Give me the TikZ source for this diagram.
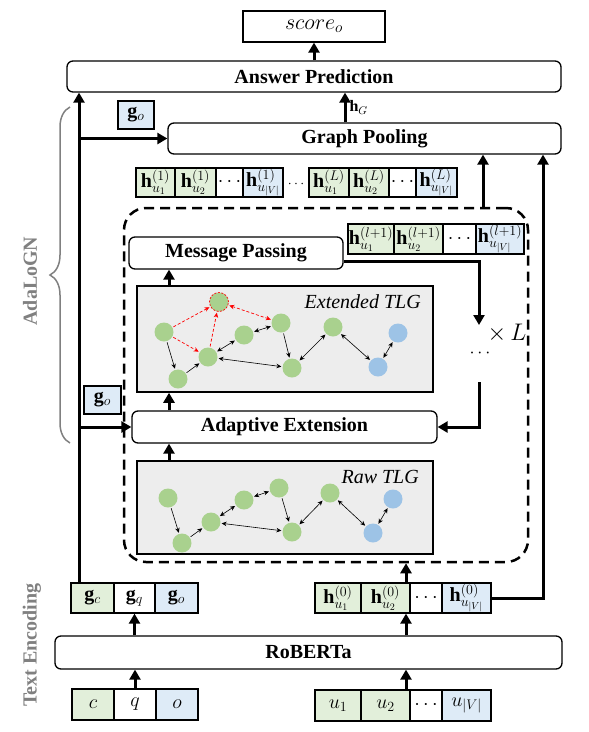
\RequirePackage{fix-cm}
\documentclass[tikz,border=0pt]{standalone}
\usepackage{fontspec}
\setmainfont{Liberation Serif}
\usetikzlibrary{arrows.meta,decorations.pathreplacing,calc}
\definecolor{cgreen}{HTML}{E2EFDA}
\definecolor{cblue}{HTML}{DEEBF7}
\definecolor{ngreen}{HTML}{A9D18E}
\definecolor{nblue}{HTML}{9DC3E6}
\definecolor{tlggray}{HTML}{EDEDED}
\definecolor{labgray}{HTML}{808080}
\newcommand\vcell[7]{\node[cell, fill=#6, minimum width={#3-#2}, minimum height={#5-#4}] (#1) at ({(#2+#3)/2},{-(#4+#5)/2}) {#7};}
\begin{document}
\begin{tikzpicture}[x=1pt,y=1pt,
 box/.style={draw, line width=1.3pt, rounded corners=6pt, fill=white, inner sep=0pt, font=\fontsize{20}{20}\selectfont\bfseries},
 cell/.style={draw, line width=1.3pt, inner sep=0pt, font=\fontsize{20}{20}\selectfont},
 tlg/.style={draw, line width=1.5pt, fill=tlggray, inner sep=0pt},
 gn/.style={circle, fill=ngreen, inner sep=0pt, minimum size=19pt},
 bn/.style={circle, fill=nblue, inner sep=0pt, minimum size=19pt},
 fat/.style={line width=3pt, -{Triangle[length=10pt,width=11pt]}},
 fatline/.style={line width=3pt},
 ed/.style={line width=0.6pt, shorten >=1pt, shorten <=1pt, -{Stealth[length=5pt,width=4.5pt]}},
 ded/.style={line width=0.6pt, shorten >=1pt, shorten <=1pt, {Stealth[length=5pt,width=4.5pt]}-{Stealth[length=5pt,width=4.5pt]}},
 redge/.style={red, dashed, dash pattern=on 3pt off 2pt, line width=0.7pt, shorten >=1pt, shorten <=1pt, -{Stealth[length=5pt,width=4.5pt]}},
 dredge/.style={red, dashed, dash pattern=on 3pt off 2pt, line width=0.7pt, shorten >=1pt, shorten <=1pt, {Stealth[length=5pt,width=4.5pt]}-{Stealth[length=5pt,width=4.5pt]}},
 side/.style={rotate=90, text=labgray, inner sep=0pt, font=\fontsize{20}{20}\selectfont\bfseries}]
\useasboundingbox (0,0) rectangle (589,-732);

% coordinates for vertical lines
\coordinate (xl) at (79,0);
\coordinate (x483) at (483,0);
\coordinate (x543) at (543,0);
\coordinate (x406) at (406,0);
\coordinate (lt) at (479,-325);
\coordinate (lb) at (479,-382);

% dashed loop box
\node[draw, dash pattern=on 10pt off 6pt, line width=2.5pt, rounded corners=22pt, minimum width=404, minimum height=354, inner sep=0pt] (loop) at (326,-385) {};

% main boxes
\node[draw, line width=1.3pt, inner sep=0pt, minimum width=142, minimum height=31, font=\fontsize{22}{22}\selectfont] (score) at (314,-26.5) {$score_o$};
\node[box, minimum width=494, minimum height=31] (ap) at (314,-76.5) {Answer Prediction};
\node[box, minimum width=393, minimum height=31] (gp) at (364.5,-138.5) {Graph Pooling};
\node[box, minimum width=214, minimum height=32] (mp) at (236,-253) {Message Passing};
\node[box, minimum width=305, minimum height=32] (ae) at (284.5,-427) {Adaptive Extension};
\node[box, minimum width=507, minimum height=33] (rob) at (308.5,-652.5) {RoBERTa};

% g_o boxes
\node[cell, fill=cblue, minimum width=36, minimum height=28] (go1) at (136,-115) {$\mathbf{g}_o$};
\node[cell, fill=cblue, minimum width=37, minimum height=28] (go2) at (102.5,-400) {$\mathbf{g}_o$};

% top vector strips
\vcell{a1}{136}{175}{168}{197}{cgreen}{$\mathbf{h}^{(1)}_{u_1}$}
\vcell{a2}{175}{216}{168}{197}{cgreen}{$\mathbf{h}^{(1)}_{u_2}$}
\vcell{a3}{216}{243}{168}{197}{white}{$\cdots$}
\vcell{a4}{243}{283}{168}{197}{cblue}{$\mathbf{h}^{(1)}_{u_{|V|}}$}
\node[font=\fontsize{14}{14}\selectfont, inner sep=0pt] (adots) at (296,-184) {$\cdots$};
\vcell{b1}{309}{349}{168}{197}{cgreen}{$\mathbf{h}^{(L)}_{u_1}$}
\vcell{b2}{349}{389}{168}{197}{cgreen}{$\mathbf{h}^{(L)}_{u_2}$}
\vcell{b3}{389}{416}{168}{197}{white}{$\cdots$}
\vcell{b4}{416}{457}{168}{197}{cblue}{$\mathbf{h}^{(L)}_{u_{|V|}}$}

% l+1 strip
\vcell{l1}{348}{394}{224}{254}{cgreen}{$\mathbf{h}^{(l+1)}_{u_1}$}
\vcell{l2}{394}{443}{224}{254}{cgreen}{$\mathbf{h}^{(l+1)}_{u_2}$}
\vcell{l3}{443}{476}{224}{254}{white}{$\cdots$}
\vcell{l4}{476}{524}{224}{254}{cblue}{$\mathbf{h}^{(l+1)}_{u_{|V|}}$}

% h0 strip
\vcell{h1}{315}{361}{583}{613}{cgreen}{$\mathbf{h}^{(0)}_{u_1}$}
\vcell{h2}{361}{410}{583}{613}{cgreen}{$\mathbf{h}^{(0)}_{u_2}$}
\vcell{h3}{410}{442}{583}{613}{white}{$\cdots$}
\vcell{h4}{442}{491}{583}{613}{cblue}{$\mathbf{h}^{(0)}_{u_{|V|}}$}

% u strip
\vcell{u1}{315}{361}{690}{721}{cgreen}{$u_1$}
\vcell{u2}{361}{410}{690}{721}{cgreen}{$u_2$}
\vcell{u3}{410}{442}{690}{721}{white}{$\cdots$}
\vcell{u4}{442}{491}{690}{721}{cblue}{$u_{|V|}$}

% g strip
\vcell{gc}{71}{114}{583}{613}{cgreen}{$\mathbf{g}_c$}
\vcell{gq}{114}{155}{583}{613}{white}{$\mathbf{g}_q$}
\vcell{gop}{155}{198}{583}{613}{cblue}{$\mathbf{g}_o$}

% input strip
\vcell{ic}{72}{114}{689}{720}{cgreen}{$c$}
\vcell{iq}{114}{156}{689}{720}{white}{$q$}
\vcell{io}{156}{198}{689}{720}{cblue}{$o$}

% TLG boxes
\node[tlg, minimum width=296, minimum height=106] (ext) at (285,-339) {};
\node[tlg, minimum width=296, minimum height=93] (raw) at (285,-507.5) {};
\node[anchor=east, inner sep=0pt, font=\fontsize{20}{20}\selectfont\itshape] (extlab) at (421,-302) {Extended TLG};
\node[anchor=east, inner sep=0pt, font=\fontsize{20}{20}\selectfont\itshape] (rawlab) at (419,-477) {Raw TLG};

% Extended TLG graph
\node[gn] (e1) at (164,-332) {};
\node[gn, draw=red, dashed, dash pattern=on 2pt off 1.5pt, line width=0.7pt] (e2) at (219,-302) {};
\node[gn] (e3) at (244,-335) {};
\node[gn] (e4) at (281,-323) {};
\node[gn] (e5) at (208,-357) {};
\node[gn] (e6) at (178,-379) {};
\node[gn] (e7) at (292,-368) {};
\node[gn] (e8) at (333,-327) {};
\node[bn] (e9) at (378,-367) {};
\node[bn] (e10) at (398,-333) {};
\draw[ed] (e1) -- (e6);
\draw[ed] (e6) -- (e5);
\draw[ded] (e5) -- (e3);
\draw[ded] (e3) -- (e4);
\draw[ed] (e4) -- (e7);
\draw[ded] (e5) -- (e7);
\draw[ded] (e7) -- (e8);
\draw[ded] (e8) -- (e9);
\draw[ded] (e9) -- (e10);
\draw[redge] (e1) -- (e2);
\draw[redge] (e1) -- (e5);
\draw[redge] (e5) -- (e2);
\draw[dredge] (e2) -- (e4);

% Raw TLG graph
\node[gn] (r1) at (168,-498) {};
\node[gn] (r3) at (244,-500) {};
\node[gn] (r4) at (279,-488) {};
\node[gn] (r5) at (211,-522) {};
\node[gn] (r6) at (182,-543) {};
\node[gn] (r7) at (292,-532) {};
\node[gn] (r8) at (330,-493) {};
\node[bn] (r9) at (373,-533) {};
\node[bn] (r10) at (393,-499) {};
\draw[ed] (r1) -- (r6);
\draw[ed] (r6) -- (r5);
\draw[ded] (r5) -- (r3);
\draw[ded] (r3) -- (r4);
\draw[ed] (r4) -- (r7);
\draw[ded] (r5) -- (r7);
\draw[ded] (r7) -- (r8);
\draw[ded] (r8) -- (r9);
\draw[ded] (r9) -- (r10);

% loop labels
\node[inner sep=0pt, font=\fontsize{24}{24}\selectfont] (xL) at (507,-333) {$\times\, L$};
\node[inner sep=0pt, font=\fontsize{18}{18}\selectfont] (ldots) at (480,-353) {$\cdots$};

% side labels and brace
\draw[labgray, line width=1.5pt, decorate, decoration={brace, amplitude=20pt}] (70,-443) -- (70,-107);
\node[side] (adalogn) at (30,-281) {AdaLoGN};
\node[side] (textenc) at (32,-645) {Text Encoding};

% connectors
\draw[fat] (ap.north) -- (score.south);
\draw[fat] (gp.north -| 345,0) -- (ap.south -| 345,0) node[midway, right=3pt, inner sep=0pt, font=\fontsize{16}{16}\selectfont] (hG) {$\mathbf{h}_G$};
\draw[fat] (gc.north -| xl) -- (ap.south -| xl);
\draw[fat] (xl |- gp.west) -- (gp.west);
\draw[fat] (xl |- ae.west) -- (ae.west);
\draw[fat] (loop.north -| x483) -- (gp.south -| x483);
\draw[fatline] (h4.east) -| ($(gp.south -| x543)+(0,-12)$);
\draw[fat] ($(gp.south -| x543)+(0,-13)$) -- (gp.south -| x543);
\draw[fat] ([yshift=-8pt]mp.east) -| (lt);
\draw[fat] (lb) |- (ae.east);
\draw[fat] (ext.north -| 169,0) -- (mp.south -| 169,0);
\draw[fat] (ae.north -| 169,0) -- (ext.south -| 169,0);
\draw[fat] (raw.north -| 169,0) -- (ae.south -| 169,0);
\draw[fat] (h2.north -| x406) -- (loop.south -| x406);
\draw[fat] (rob.north -| x406) -- (h2.south -| x406);
\draw[fat] (u2.north -| x406) -- (rob.south -| x406);
\draw[fat] (rob.north -| gq.north) -- (gq.south);
\draw[fat] (iq.north) -- (rob.south -| iq.north);
\end{tikzpicture}
\end{document}
